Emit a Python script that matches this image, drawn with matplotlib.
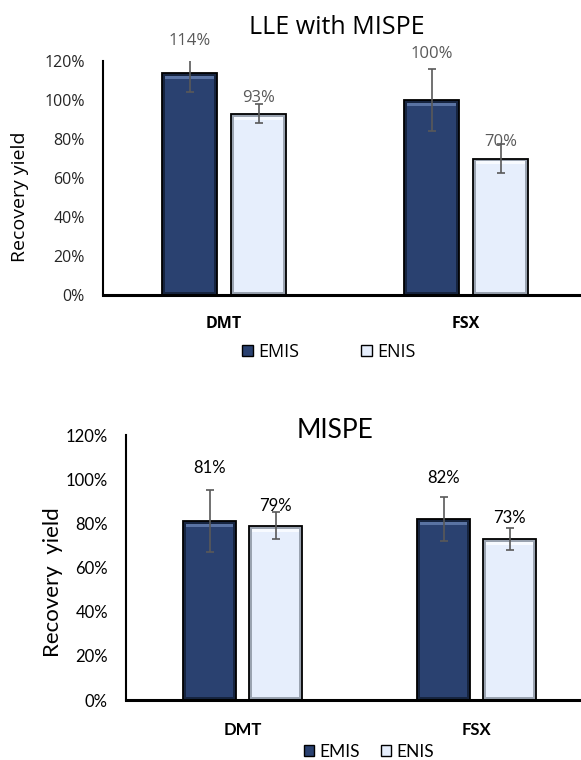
import matplotlib.pyplot as plt
from matplotlib.patches import Patch

# data
categories = ["DMT", "FSX"]
series = ["EMIS", "ENIS"]

lle_emis = [114, 100]
lle_enis = [93, 70]
lle_emis_err = [10, 16]
lle_enis_err = [5, 7.5]

mispe_emis = [81, 82]
mispe_enis = [79, 73]
mispe_emis_err = [14, 10]
mispe_enis_err = [6, 5]

yticks = [0, 20, 40, 60, 80, 100, 120]

# style: (side shade, face, top highlight)
DARK = ("#16243f", "#2a4170", "#5a73a3")
LIGHT = ("#9aa3b0", "#e6eefc", "#f7faff")
ERRC = "#595959"
TOP_FONT = ["Open Sans", "DejaVu Sans"]
BOT_FONT = ["Lato", "DejaVu Sans"]

fig = plt.figure(figsize=(5.81, 7.6), dpi=100)


def bevel_bars(ax, xs, vals, width, colors, bev_x, bev_y):
    side, face, hi = colors
    ax.bar(xs, vals, width, color=side, edgecolor="black", linewidth=1.3,
           zorder=2)
    # inner face, slightly inset
    ax.bar(xs, [v - 2 * bev_y for v in vals], width - 2 * bev_x,
           bottom=bev_y, color=face, linewidth=0, zorder=2.1)
    # highlight strip along the top
    ax.bar(xs, [bev_y] * len(vals), width - 2 * bev_x,
           bottom=[v - 2 * bev_y for v in vals], color=hi, linewidth=0,
           zorder=2.2)


def draw(ax, emis, enis, emis_err, enis_err, off, width, label_offsets, font,
         fs_tick, fs_lab, label_color, xlim, bev_x, bev_y):
    x = list(range(len(categories)))
    xe = [i - off for i in x]
    xn = [i + off for i in x]
    bevel_bars(ax, xe, emis, width, DARK, bev_x, bev_y)
    bevel_bars(ax, xn, enis, width, LIGHT, bev_x, bev_y)
    ax.errorbar(xe, emis, yerr=emis_err, fmt="none", ecolor=ERRC,
                elinewidth=1.2, capsize=3, capthick=1.2, zorder=3)
    ax.errorbar(xn, enis, yerr=enis_err, fmt="none", ecolor=ERRC,
                elinewidth=1.2, capsize=3, capthick=1.2, zorder=3)
    k = 0
    for xs, vals in ((xe, emis), (xn, enis)):
        for xi, v in zip(xs, vals):
            ax.annotate(f"{v:.0f}%", (xi, v), xytext=(0, label_offsets[k]),
                        textcoords="offset pixels", ha="center", va="center",
                        fontsize=fs_lab, color=label_color, family=font,
                        annotation_clip=False, zorder=4)
            k += 1
    ax.set_ylim(0, 120)
    ax.set_xlim(*xlim)
    ax.set_yticks(yticks)
    ax.set_yticklabels([f"{t}%" for t in yticks], family=font,
                       fontsize=fs_tick)
    ax.set_xticks(x)
    ax.set_xticklabels(categories, family=font, fontweight="bold",
                       fontsize=fs_tick)
    for s in ("top", "right"):
        ax.spines[s].set_visible(False)
    ax.spines["left"].set_linewidth(1.5)
    ax.spines["bottom"].set_linewidth(2.2)


# top chart: LLE with MISPE
ax1 = fig.add_axes([0.1773, 0.6118, 0.8207, 0.3079])
draw(ax1, lle_emis, lle_enis, lle_emis_err, lle_enis_err, 0.1426, 0.227,
     [32, 46, 16, 17], TOP_FONT, 11.5, 12, "#595959", (-0.5, 1.47),
     0.012, 1.5)
ax1.tick_params(axis="y", length=0, pad=13, labelcolor="#262626")
ax1.tick_params(axis="x", length=0, pad=15)
fig.text(337 / 581, 1 - 28 / 760, "LLE with MISPE", ha="center",
         va="center", fontsize=18, family=TOP_FONT)
fig.text(20 / 581, 1 - 197 / 760, "Recovery yield", rotation=90,
         ha="center", va="center", fontsize=14, family=TOP_FONT)
h = [Patch(facecolor=DARK[1], edgecolor="black", label=series[0]),
     Patch(facecolor=LIGHT[1], edgecolor="black", label=series[1])]
fig.legend(handles=h, loc="center", bbox_to_anchor=(329 / 581, 1 - 352 / 760),
           ncol=2, frameon=False, prop={"family": TOP_FONT, "size": 13},
           handlelength=0.6, handleheight=0.6, handletextpad=0.3,
           columnspacing=3.4)

# bottom chart: MISPE
ax2 = fig.add_axes([0.2169, 0.0789, 0.7814, 0.3487])
draw(ax2, mispe_emis, mispe_enis, mispe_emis_err, mispe_enis_err, 0.141,
     0.226, [53, 41, 20, 21], BOT_FONT, 12, 12, "black", (-0.498, 1.442),
     0.012, 1.4)
ax2.tick_params(axis="y", length=0, pad=13)
ax2.tick_params(axis="x", length=0, pad=16)
fig.text(335 / 581, 1 - 430 / 760, "MISPE", ha="center", va="center",
         fontsize=19, family=BOT_FONT)
fig.text(53 / 581, 1 - 582 / 760, "Recovery  yield", rotation=90,
         ha="center", va="center", fontsize=16, family=BOT_FONT)
h2 = [Patch(facecolor=DARK[1], edgecolor="black", label=series[0]),
      Patch(facecolor=LIGHT[1], edgecolor="black", label=series[1])]
fig.legend(handles=h2, loc="center", bbox_to_anchor=(369 / 581, 1 - 752 / 760),
           ncol=2, frameon=False, prop={"family": BOT_FONT, "size": 12.5},
           handlelength=0.6, handleheight=0.6, handletextpad=0.3,
           columnspacing=1.2)

fig.savefig("out.png", dpi=100)
